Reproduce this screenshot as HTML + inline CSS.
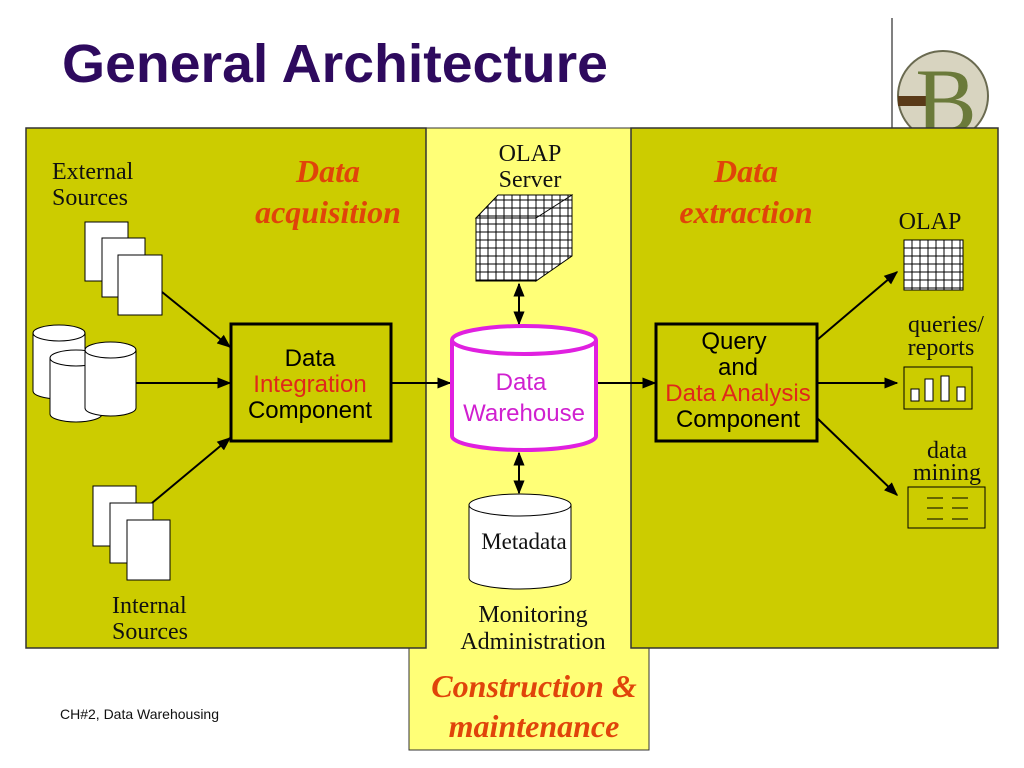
<!DOCTYPE html>
<html><head><meta charset="utf-8"><style>
html,body{margin:0;padding:0;background:#fff;width:1024px;height:768px;overflow:hidden}
svg{display:block}
.s{font-family:"Liberation Serif",serif;fill:#111}
.a{font-family:"Liberation Sans",sans-serif}
.or{font-family:"Liberation Serif",serif;font-style:italic;font-weight:bold;fill:#e0440a}
</style></head><body>
<svg width="1024" height="768" viewBox="0 0 1024 768" xmlns="http://www.w3.org/2000/svg">
<defs>
<marker id="ar" viewBox="0 0 10 10" refX="9" refY="5" markerWidth="7" markerHeight="7" orient="auto-start-reverse"><path d="M0,1 L10,5 L0,9 z" fill="#000"/></marker>
<pattern id="g" width="8" height="8" patternUnits="userSpaceOnUse"><rect width="8" height="8" fill="#fff" stroke="#000" stroke-width="1"/></pattern>
</defs>
<text x="62" y="82" class="a" font-size="54" font-weight="bold" fill="#2e0a5e" textLength="546" lengthAdjust="spacingAndGlyphs">General Architecture</text>
<line x1="892" y1="18" x2="892" y2="128" stroke="#000" stroke-width="1"/>
<circle cx="943" cy="96" r="45" fill="#d8d4c0" stroke="#6a6a50" stroke-width="2"/>
<rect x="898" y="96" width="30" height="10" fill="#5a3a18"/>
<text x="946" y="132" text-anchor="middle" font-family="Liberation Serif,serif" font-size="92" fill="#6b7a3a">B</text>
<rect x="409" y="128" width="240" height="622" fill="#ffff77" stroke="#333" stroke-width="1"/>
<rect x="26" y="128" width="400" height="520" fill="#cccc00" stroke="#333" stroke-width="1.5"/>
<rect x="631" y="128" width="367" height="520" fill="#cccc00" stroke="#333" stroke-width="1.5"/>
<text x="52" y="179" class="s" font-size="24">External</text>
<text x="52" y="205" class="s" font-size="24">Sources</text>
<text x="328" y="182" class="or" font-size="32" text-anchor="middle">Data</text>
<text x="328" y="223" class="or" font-size="32" text-anchor="middle">acquisition</text>
<g fill="#fff" stroke="#000" stroke-width="1">
<rect x="85" y="222" width="43" height="59"/><rect x="102" y="238" width="43" height="59"/><rect x="118" y="255" width="44" height="60"/>
<rect x="93" y="486" width="43" height="60"/><rect x="110" y="503" width="43" height="60"/><rect x="127" y="520" width="43" height="60"/>
</g>
<g fill="#fff" stroke="#000" stroke-width="1">
<path d="M33,333 v58 a26,8 0 0 0 52,0 v-58"/><ellipse cx="59" cy="333" rx="26" ry="8"/>
<path d="M50,358 v56 a26,8 0 0 0 52,0 v-56"/><ellipse cx="76" cy="358" rx="26" ry="8"/>
<path d="M85,350 v58 a25.5,8 0 0 0 51,0 v-58"/><ellipse cx="110.5" cy="350" rx="25.5" ry="8"/>
</g>
<text x="112" y="613" class="s" font-size="24">Internal</text>
<text x="112" y="639" class="s" font-size="24">Sources</text>
<rect x="231" y="324" width="160" height="117" fill="none" stroke="#000" stroke-width="3"/>
<g class="a" font-size="24" text-anchor="middle">
<text x="310" y="366">Data</text>
<text x="310" y="392" fill="#e0281a">Integration</text>
<text x="310" y="418">Component</text>
</g>
<g stroke="#000" stroke-width="2" marker-end="url(#ar)">
<line x1="162" y1="292" x2="230" y2="347"/>
<line x1="136" y1="383" x2="230" y2="383"/>
<line x1="152" y1="503" x2="230" y2="438"/>
<line x1="391" y1="383" x2="450" y2="383"/>
<line x1="597" y1="383" x2="655" y2="383"/>
<line x1="817" y1="340" x2="897" y2="272"/>
<line x1="817" y1="383" x2="897" y2="383"/>
<line x1="817" y1="418" x2="897" y2="495"/>
<line x1="519" y1="284" x2="519" y2="324" marker-start="url(#ar)"/>
<line x1="519" y1="453" x2="519" y2="493" marker-start="url(#ar)"/>
</g>
<text x="530" y="161" class="s" font-size="24" text-anchor="middle">OLAP</text>
<text x="530" y="187" class="s" font-size="24" text-anchor="middle">Server</text>
<g stroke="#000" stroke-width="1">
<polygon points="476,218 498,195 572,195 550,218" fill="url(#g)"/>
<polygon points="536,218 572,195 572,256 536,281" fill="url(#g)"/>
<rect x="476" y="218" width="60" height="63" fill="url(#g)"/>
</g>
<path d="M452,340 v96 a72,14 0 0 0 144,0 v-96" fill="#fff" stroke="#e020e0" stroke-width="4"/>
<ellipse cx="524" cy="340" rx="72" ry="14" fill="#fff" stroke="#e020e0" stroke-width="4"/>
<text x="521" y="390" class="a" font-size="24" fill="#d020d0" text-anchor="middle">Data</text>
<text x="524" y="421" class="a" font-size="24" fill="#d020d0" text-anchor="middle">Warehouse</text>
<path d="M469,505 v73 a51,11 0 0 0 102,0 v-73" fill="#fff" stroke="#000"/>
<ellipse cx="520" cy="505" rx="51" ry="11" fill="#fff" stroke="#000"/>
<text x="524" y="549" class="s" font-size="23" text-anchor="middle">Metadata</text>
<text x="533" y="622" class="s" font-size="24" text-anchor="middle">Monitoring</text>
<text x="533" y="649" class="s" font-size="24" text-anchor="middle">Administration</text>
<text x="534" y="697" class="or" font-size="32" text-anchor="middle">Construction &amp;</text>
<text x="534" y="737" class="or" font-size="32" text-anchor="middle">maintenance</text>
<text x="746" y="182" class="or" font-size="32" text-anchor="middle">Data</text>
<text x="746" y="223" class="or" font-size="32" text-anchor="middle">extraction</text>
<rect x="656" y="324" width="161" height="117" fill="none" stroke="#000" stroke-width="3"/>
<g class="a" font-size="24" text-anchor="middle">
<text x="734" y="349">Query</text>
<text x="738" y="375">and</text>
<text x="738" y="401" fill="#e0281a">Data Analysis</text>
<text x="738" y="427">Component</text>
</g>
<text x="930" y="229" class="s" font-size="24" text-anchor="middle">OLAP</text>
<rect x="904" y="240" width="59" height="50" fill="url(#g)" stroke="#000"/>
<text x="946" y="332" class="s" font-size="24" text-anchor="middle">queries/</text>
<text x="941" y="355" class="s" font-size="24" text-anchor="middle">reports</text>
<rect x="904" y="367" width="68" height="42" fill="none" stroke="#000"/>
<g fill="#fff" stroke="#000"><rect x="911" y="389" width="8" height="12"/><rect x="925" y="379" width="8" height="22"/><rect x="941" y="376" width="8" height="25"/><rect x="957" y="387" width="8" height="14"/></g>
<text x="947" y="458" class="s" font-size="24" text-anchor="middle">data</text>
<text x="947" y="480" class="s" font-size="24" text-anchor="middle">mining</text>
<rect x="908" y="487" width="77" height="41" fill="none" stroke="#000"/>
<g stroke="#000"><line x1="927" y1="498" x2="943" y2="498"/><line x1="927" y1="508" x2="943" y2="508"/><line x1="927" y1="519" x2="943" y2="519"/><line x1="952" y1="498" x2="968" y2="498"/><line x1="952" y1="508" x2="968" y2="508"/><line x1="952" y1="519" x2="968" y2="519"/></g>
<text x="60" y="719" class="a" font-size="14" fill="#111">CH#2, Data Warehousing</text>
</svg>
</body></html>
